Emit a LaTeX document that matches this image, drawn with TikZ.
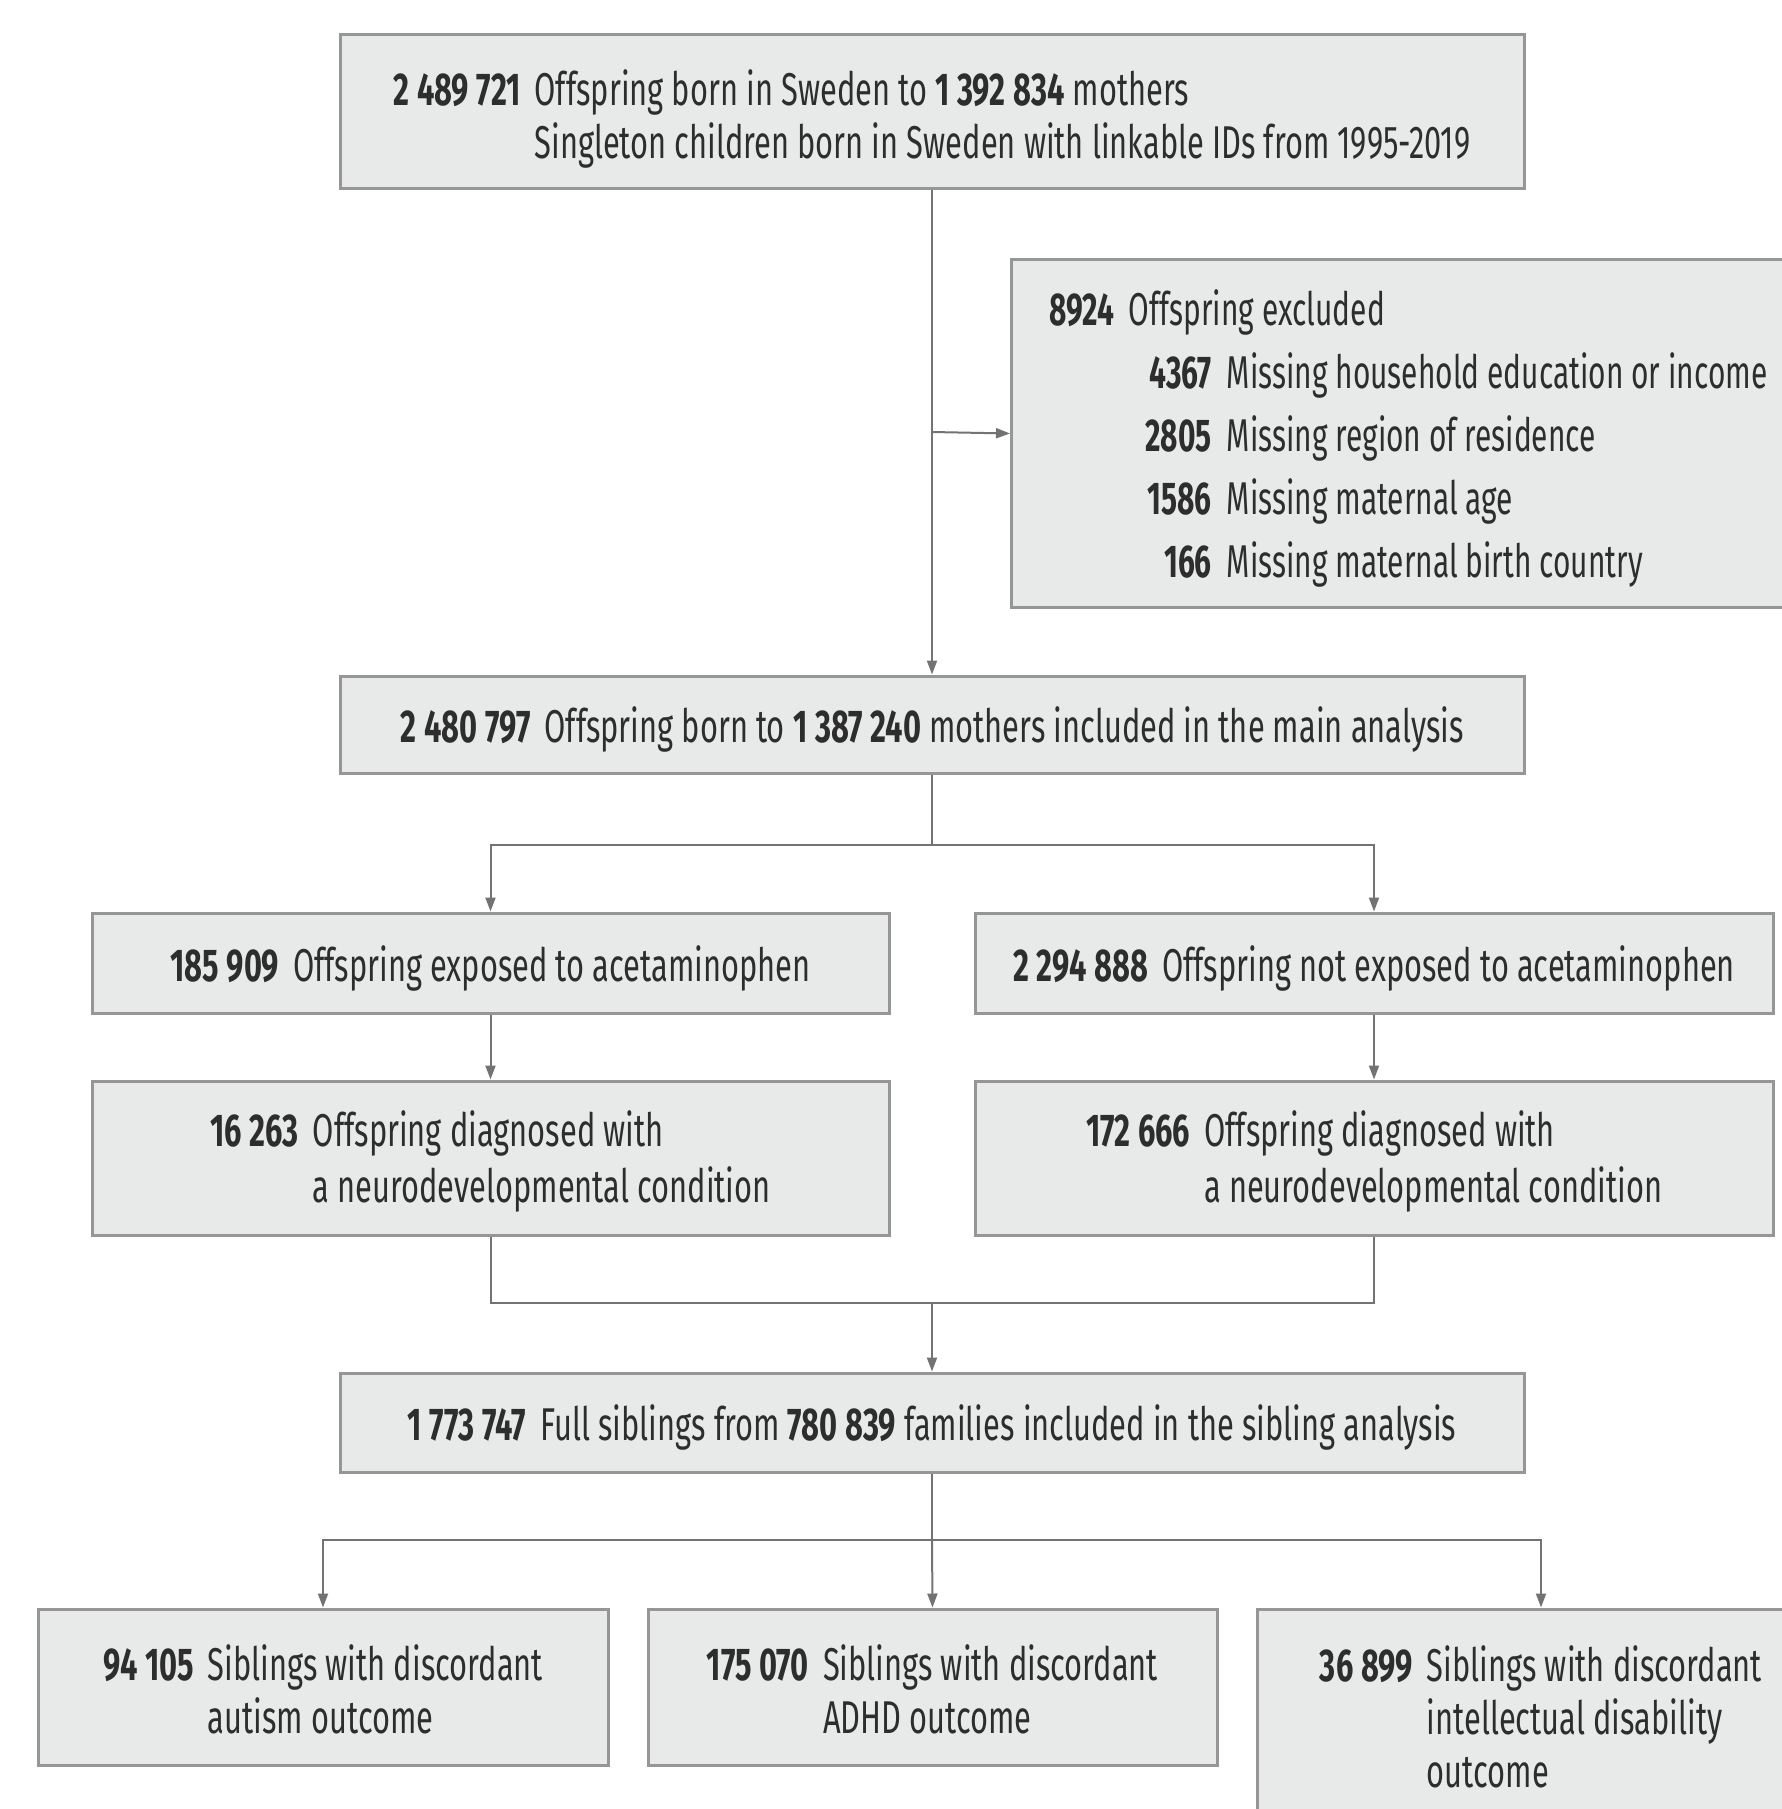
\documentclass[tikz,border=0pt]{standalone}
\usepackage{fontspec}
\setmainfont{Fira Sans}[FakeStretch=0.67]
\newfontfamily\exclfont{Fira Sans}[FakeStretch=0.65]
\usepackage{tikz}
\usetikzlibrary{arrows.meta}
\definecolor{boxfill}{RGB}{232,234,234}
\definecolor{boxline}{RGB}{150,150,150}
\definecolor{flowline}{RGB}{115,115,115}
\definecolor{ink}{RGB}{45,45,45}
\newcommand{\nb}[1]{\textbf{#1}}
\newcommand{\lowtext}[2][5pt]{\raisebox{0pt}[\dimexpr\height+#1\relax][\depth]{#2}}

\begin{document}
\begin{tikzpicture}[x=0.5pt,y=-0.5pt,
  box/.style={draw=boxline,fill=boxfill,line width=1.5pt,inner sep=0pt,text=ink,font=\fontsize{23pt}{26.5pt}\selectfont},
  flow/.style={draw=flowline,line width=1pt},
  tip/.style={-{Triangle[length=7pt,width=5pt]}}]
\useasboundingbox (0,0) rectangle (1782,1809);
\node[box,minimum width=592pt,minimum height=76.5pt] (born) at (932,111.5) {\lowtext[9.5pt]{\begin{tabular}{@{}r@{\hspace{7pt}}l@{}}\nb{2\,489\,721} & Offspring born in Sweden to \nb{1\,392\,834} mothers\\ & Singleton children born in Sweden with linkable IDs from 1995-2019\end{tabular}}};
\node[box,minimum width=392.5pt,minimum height=174pt,anchor=north west] (excl) at (1010,258) {};
\node[anchor=west,inner sep=0pt,text=ink,font=\exclfont\fontsize{23pt}{31.5pt}\selectfont] (excltxt) at (1049,439) {\begin{tabular}{@{\hspace{48pt}}r@{\hspace{7.5pt}}l@{}}
\multicolumn{2}{@{}l@{}}{\nb{8924}\hspace{7.5pt}Offspring excluded}\\
\nb{4367} & Missing household education or income\\
\nb{2805} & Missing region of residence\\
\nb{1586} & Missing maternal age\\
\nb{166} & Missing maternal birth country\end{tabular}};
\node[box,minimum width=592pt,minimum height=48.5pt] (main) at (932,724.5) {\lowtext{\nb{2\,480\,797}\hspace{7pt}Offspring born to \nb{1\,387\,240} mothers included in the main analysis}};
% exposure groups
\node[box,minimum width=398.5pt,minimum height=50pt] (expo) at (490.5,963) {\lowtext{\nb{185\,909}\hspace{7pt}Offspring exposed to acetaminophen}};
\node[box,minimum width=399pt,minimum height=50pt] (noexpo) at (1374,963) {\lowtext{\nb{2\,294\,888}\hspace{7pt}Offspring not exposed to acetaminophen}};
\node[box,minimum width=398.5pt,minimum height=77pt,font=\fontsize{23pt}{28pt}\selectfont] (diagexpo) at (490.5,1158) {\lowtext{\begin{tabular}{@{}r@{\hspace{7pt}}l@{}}\nb{16\,263} & Offspring diagnosed with\\ & a neurodevelopmental condition\end{tabular}}};
\node[box,minimum width=399pt,minimum height=77pt,font=\fontsize{23pt}{28pt}\selectfont] (diagnoexpo) at (1374,1158) {\lowtext{\begin{tabular}{@{}r@{\hspace{7pt}}l@{}}\nb{172\,666} & Offspring diagnosed with\\ & a neurodevelopmental condition\end{tabular}}};
\node[box,minimum width=592pt,minimum height=49.5pt] (sib) at (932,1422.5) {\lowtext{\nb{1\,773\,747}\hspace{7pt}Full siblings from \nb{780\,839} families included in the sibling analysis}};
% sibling outcomes
\node[box,minimum width=285pt,minimum height=78pt] (sibaut) at (323,1687) {\lowtext[9.5pt]{\begin{tabular}{@{}r@{\hspace{7pt}}l@{}}\nb{94\,105} & Siblings with discordant\\ & autism outcome\end{tabular}}};
\node[box,minimum width=284.5pt,minimum height=78pt] (sibadhd) at (932.5,1687) {\lowtext[9.5pt]{\begin{tabular}{@{}r@{\hspace{7pt}}l@{}}\nb{175\,070} & Siblings with discordant\\ & ADHD outcome\end{tabular}}};
\node[box,minimum width=284pt,minimum height=110pt] (sibid) at (1541,1719) {\lowtext{\begin{tabular}{@{}r@{\hspace{7pt}}l@{}}\nb{36\,899} & Siblings with discordant\\ & intellectual disability\\ & outcome\end{tabular}}};
\coordinate (split) at (932,432);
\coordinate (fork) at (932,845);
\coordinate (join) at (932,1303);
\coordinate (fork2) at (932,1540);
\draw[flow,tip] (born.south) -- (main.north);
\draw[flow,tip] (split) -- (excl.west);
\draw[flow] (main.south) -- (fork);
\draw[flow,tip] (fork) -| (expo.north);
\draw[flow,tip] (fork) -| (noexpo.north);
\draw[flow,tip] (expo.south) -- (diagexpo.north);
\draw[flow,tip] (noexpo.south) -- (diagnoexpo.north);
\draw[flow] (diagexpo.south) |- (join);
\draw[flow] (diagnoexpo.south) |- (join);
\draw[flow,tip] (join) -- (sib.north);
\draw[flow] (sib.south) -- (fork2);
\draw[flow,tip] (fork2) -| (sibaut.north);
\draw[flow,tip] (fork2) -- (sibadhd.north);
\draw[flow,tip] (fork2) -| (sibid.north);
\end{tikzpicture}
\end{document}
